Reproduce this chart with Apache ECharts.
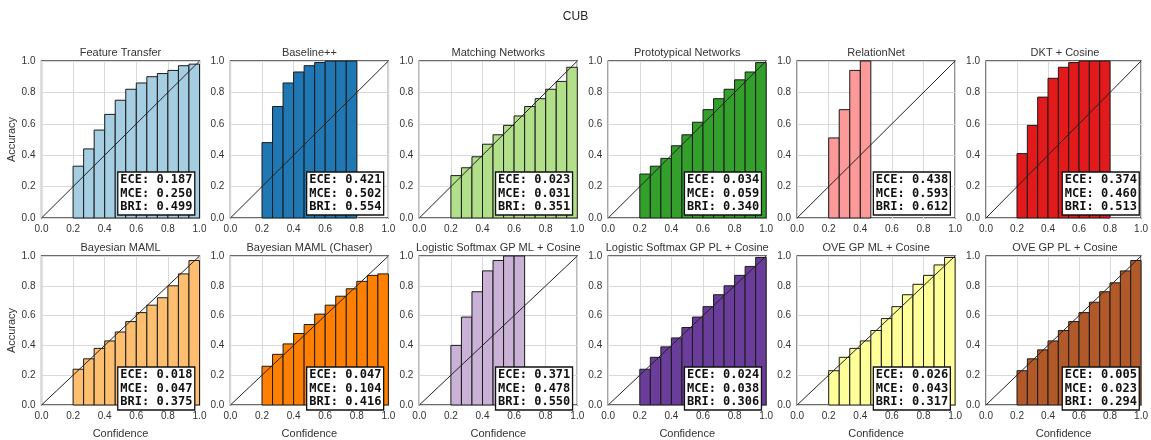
<!DOCTYPE html>
<html>
<head>
<meta charset="utf-8">
<script src="https://cdn.jsdelivr.net/npm/echarts@6/dist/echarts.min.js"></script>
<style>
  html, body { margin: 0; padding: 0; background: #fff; }
  #chart { width: 1151px; height: 440px; }
</style>
</head>
<body>
<div id="chart"></div>
<script>
// Reliability diagrams on CUB: per-bin accuracy for 15 equal-width confidence bins
const models = [
  'Feature Transfer', 'Baseline++', 'Matching Networks', 'Prototypical Networks', 'RelationNet', 'DKT + Cosine',
  'Bayesian MAML', 'Bayesian MAML (Chaser)', 'Logistic Softmax GP ML + Cosine', 'Logistic Softmax GP PL + Cosine',
  'OVE GP ML + Cosine', 'OVE GP PL + Cosine'
];
const colors = [
  '#a6cee3', '#1f78b4', '#b2df8a', '#33a02c', '#fb9a99', '#e31a1c',
  '#fdbf6f', '#ff7f00', '#cab2d6', '#6a3d9a', '#ffff99', '#b15928'
];
const numBins = 15;
const firstBin = 3; // first non-empty bin starts at confidence 0.2

const accFeatureTransfer = [0.33, 0.44, 0.56, 0.66, 0.75, 0.82, 0.86, 0.90, 0.92, 0.94, 0.97, 0.98];
const accBaseline = [0.48, 0.71, 0.86, 0.93, 0.97, 0.99, 1.00, 1.00, 1.00];
const accMatching = [0.27, 0.32, 0.39, 0.47, 0.53, 0.59, 0.65, 0.71, 0.76, 0.82, 0.87, 0.96];
const accProto = [0.28, 0.33, 0.38, 0.46, 0.53, 0.61, 0.69, 0.76, 0.82, 0.88, 0.93, 0.99];
const accRelation = [0.51, 0.69, 0.94, 1.00];
const accDKT = [0.41, 0.59, 0.77, 0.89, 0.96, 0.99, 1.00, 1.00, 1.00];
const accBMAML = [0.24, 0.31, 0.38, 0.43, 0.49, 0.56, 0.62, 0.67, 0.72, 0.80, 0.88, 0.97];
const accChaser = [0.26, 0.34, 0.41, 0.48, 0.54, 0.61, 0.67, 0.73, 0.78, 0.83, 0.87, 0.88];
const accLSML = [0.40, 0.59, 0.76, 0.90, 0.97, 1.00, 1.00];
const accLSPL = [0.24, 0.32, 0.39, 0.45, 0.52, 0.59, 0.66, 0.74, 0.80, 0.87, 0.93, 0.99];
const accOVEML = [0.23, 0.32, 0.38, 0.43, 0.50, 0.58, 0.66, 0.74, 0.81, 0.87, 0.94, 0.99];
const accOVEPL = [0.23, 0.31, 0.37, 0.43, 0.50, 0.56, 0.62, 0.69, 0.76, 0.82, 0.90, 0.97];
const accuracies = [
  accFeatureTransfer, accBaseline, accMatching, accProto, accRelation, accDKT,
  accBMAML, accChaser, accLSML, accLSPL, accOVEML, accOVEPL
];

const ece = ['0.187', '0.421', '0.023', '0.034', '0.438', '0.374', '0.018', '0.047', '0.371', '0.024', '0.026', '0.005'];
const mce = ['0.250', '0.502', '0.031', '0.059', '0.593', '0.460', '0.047', '0.104', '0.478', '0.038', '0.043', '0.023'];
const bri = ['0.499', '0.554', '0.351', '0.340', '0.612', '0.513', '0.375', '0.416', '0.550', '0.306', '0.317', '0.294'];

const tickLabels = ['0.0', '0.2', '0.4', '0.6', '0.8', '1.0'];

// panel geometry
const W = 1151, H = 440;
const panelLeft0 = 41.5, panelStep = 188.9, panelW = 158, panelH = 157;
const panelTops = [61, 256];

const sansFont = '"Liberation Sans", Arial, sans-serif';
const grids = [], xAxes = [], yAxes = [], series = [], titles = [];

titles.push({
  text: 'CUB', left: 'center', top: 11, padding: 0,
  textStyle: { fontFamily: sansFont, fontSize: 12, fontWeight: 'normal', color: '#222' }
});

models.forEach((name, i) => {
  const row = Math.floor(i / 6), col = i % 6;
  const left = panelLeft0 + col * panelStep;
  const top = panelTops[row];
  grids.push({
    left: left, top: top, width: panelW, height: panelH,
    show: true, borderColor: '#3a3a3a', borderWidth: 1.3, backgroundColor: '#fff'
  });
  const labelStyle = { fontFamily: sansFont, fontSize: 10, color: '#333' };
  xAxes.push({
    gridIndex: i, type: 'value', min: 0, max: 1, interval: 0.2,
    name: row === 1 ? 'Confidence' : '', nameLocation: 'middle', nameGap: 23,
    nameTextStyle: { fontFamily: sansFont, fontSize: 11, color: '#333' },
    axisLine: { show: false }, axisTick: { show: false },
    axisLabel: { margin: 6, ...labelStyle, formatter: v => tickLabels[Math.round(v / 0.2)] },
    splitLine: { show: true, lineStyle: { color: '#d9d9d9', width: 1 } }
  });
  yAxes.push({
    gridIndex: i, type: 'value', min: 0, max: 1, interval: 0.2,
    name: col === 0 ? 'Accuracy' : '', nameLocation: 'middle', nameGap: 23, nameRotate: 90,
    nameTextStyle: { fontFamily: sansFont, fontSize: 11, color: '#333' },
    axisLine: { show: false }, axisTick: { show: false },
    axisLabel: { margin: 6, ...labelStyle, formatter: v => tickLabels[Math.round(v / 0.2)] },
    splitLine: { show: true, lineStyle: { color: '#d9d9d9', width: 1 } }
  });

  const binData = accuracies[i].map((a, k) => [(firstBin + k) / numBins, (firstBin + k + 1) / numBins, a]);
  const fill = colors[i];
  series.push({
    type: 'custom', xAxisIndex: i, yAxisIndex: i, z: 2,
    encode: { x: [0, 1], y: 2 },
    data: binData,
    renderItem: (params, api) => {
      const p0 = api.coord([api.value(0), api.value(2)]);
      const p1 = api.coord([api.value(1), 0]);
      return {
        type: 'rect',
        shape: { x: p0[0], y: p0[1], width: p1[0] - p0[0], height: p1[1] - p0[1] },
        style: { fill: fill, stroke: '#1a1a1a', lineWidth: 1 }
      };
    },
    silent: true
  });
  series.push({
    type: 'line', xAxisIndex: i, yAxisIndex: i, z: 3,
    data: [[0, 0], [1, 1]], symbol: 'none', silent: true,
    lineStyle: { color: '#222', width: 1 }
  });

  titles.push({
    text: name, left: left + panelW / 2, top: top - 14, textAlign: 'center', padding: 0,
    textStyle: { fontFamily: sansFont, fontSize: 11, fontWeight: 'normal', color: '#333' }
  });
  titles.push({
    text: 'ECE: ' + ece[i] + '\nMCE: ' + mce[i] + '\nBRI: ' + bri[i],
    right: W - (left + panelW - 4), bottom: H - (top + panelH - 3),
    backgroundColor: '#fff', borderColor: '#111', borderWidth: 1.3, padding: [2, 3, 1, 3],
    textStyle: { fontFamily: '"DejaVu Sans Mono", monospace', fontSize: 12, fontWeight: 'bold', lineHeight: 13.5, color: '#111' }
  });
});

const chart = echarts.init(document.getElementById('chart'), null, { renderer: 'canvas' });
chart.setOption({
  animation: false,
  backgroundColor: '#fff',
  title: titles,
  grid: grids,
  xAxis: xAxes,
  yAxis: yAxes,
  series: series
});
</script>
</body>
</html>
